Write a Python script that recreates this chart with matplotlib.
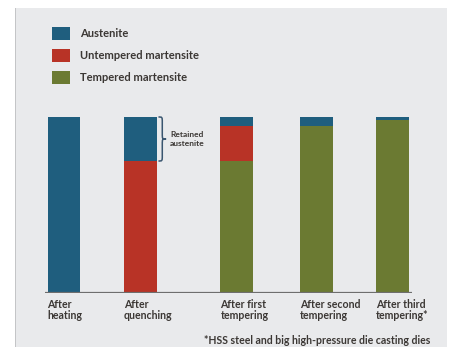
import matplotlib.pyplot as plt
from matplotlib.patches import Rectangle, Patch, PathPatch
from matplotlib.path import Path

# stages and phase fractions (share of bar height)
stages = ['After\nheating', 'After\nquenching', 'After first\ntempering',
          'After second\ntempering', 'After third\ntempering*']
phases = ['Austenite', 'Untempered martensite', 'Tempered martensite']
tempered = [0.0, 0.0, 0.75, 0.95, 0.985]
untempered = [0.0, 0.75, 0.20, 0.0, 0.0]
austenite = [1.0, 0.25, 0.05, 0.05, 0.015]

# layout
positions = [0, 1, 2.26, 3.3, 4.29]
bar_w = 0.43
colors = {'Austenite': '#1f5e7e', 'Untempered martensite': '#b83326',
          'Tempered martensite': '#6b7a32'}
txt_color = '#3b3734'
plt.rcParams['font.family'] = ['Lato', 'DejaVu Sans']

fig = plt.figure(figsize=(4.54, 3.47), dpi=100)
fig.patch.set_facecolor('white')
# grey panel behind everything
fig.patches.append(Rectangle((15 / 454, 0), 432 / 454, 339 / 347,
                             transform=fig.transFigure, facecolor='#e9eaec',
                             edgecolor='none', zorder=-2))
fig.patches.append(Rectangle((15 / 454, 0), 1.2 / 454, 339 / 347,
                             transform=fig.transFigure, facecolor='#c4c5c7',
                             edgecolor='none', zorder=-1))

ax = fig.add_axes([45 / 454, 54 / 347, 367 / 454, 176 / 347])
ax.set_facecolor('none')

ax.bar(positions, tempered, bar_w, color=colors['Tempered martensite'])
ax.bar(positions, untempered, bar_w, bottom=tempered,
       color=colors['Untempered martensite'])
base = [t + u for t, u in zip(tempered, untempered)]
ax.bar(positions, austenite, bar_w, bottom=base, color=colors['Austenite'])

ax.set_xlim(-0.248, 4.549)
ax.set_ylim(0, 1)
ax.axhline(0, color='#6e6e6e', lw=1.6, zorder=3)
for s in ax.spines.values():
    s.set_visible(False)
ax.set_xticks([])
ax.set_yticks([])

# stage labels, left aligned under the bars
for p, lab in zip(positions, stages):
    ax.text(p - bar_w / 2, -0.035, lab, ha='left', va='top', fontsize=7.6,
            fontweight='bold', color=txt_color, linespacing=1.0)

# retained austenite brace on the quenching bar
q = 1
t = base[q] + austenite[q]
b = base[q]
m = (t + b) / 2
x0 = positions[q] + bar_w / 2 + 0.02
xm = x0 + 0.05
xt = x0 + 0.1
r = 0.03
verts = [(x0, t), (xm, t), (xm, t), (xm, t - r),
         (xm, m + r),
         (xm, m), (xm, m), (xt, m),
         (xm, m), (xm, m), (xm, m - r),
         (xm, b + r),
         (xm, b), (xm, b), (x0, b)]
codes = [Path.MOVETO, Path.CURVE4, Path.CURVE4, Path.CURVE4,
         Path.LINETO,
         Path.CURVE4, Path.CURVE4, Path.CURVE4,
         Path.CURVE4, Path.CURVE4, Path.CURVE4,
         Path.LINETO,
         Path.CURVE4, Path.CURVE4, Path.CURVE4]
ax.add_patch(PathPatch(Path(verts, codes), facecolor='none',
                       edgecolor='#3a5670', lw=1.1, clip_on=False))
ax.text(positions[q] + bar_w / 2 + 0.17, m, 'Retained\naustenite',
        ha='left', va='center', fontsize=6, fontweight='bold',
        color=txt_color, linespacing=1.45)

# legend
handles = [Patch(facecolor=colors[p]) for p in phases]
fig.legend(handles, phases, loc='upper left',
           bbox_to_anchor=(52 / 454, 1 - 27 / 347), frameon=False,
           handlelength=1.62, handleheight=1.44,
           labelspacing=0.81, handletextpad=0.9, borderpad=0,
           borderaxespad=0, labelcolor=txt_color,
           prop={'weight': 'bold', 'size': 8})

fig.text(430 / 454, 1 - 341 / 347,
         '*HSS steel and big high-pressure die casting dies',
         ha='right', va='center', fontsize=7.6, fontweight='bold',
         color=txt_color)

fig.savefig('out.png', dpi=100)
